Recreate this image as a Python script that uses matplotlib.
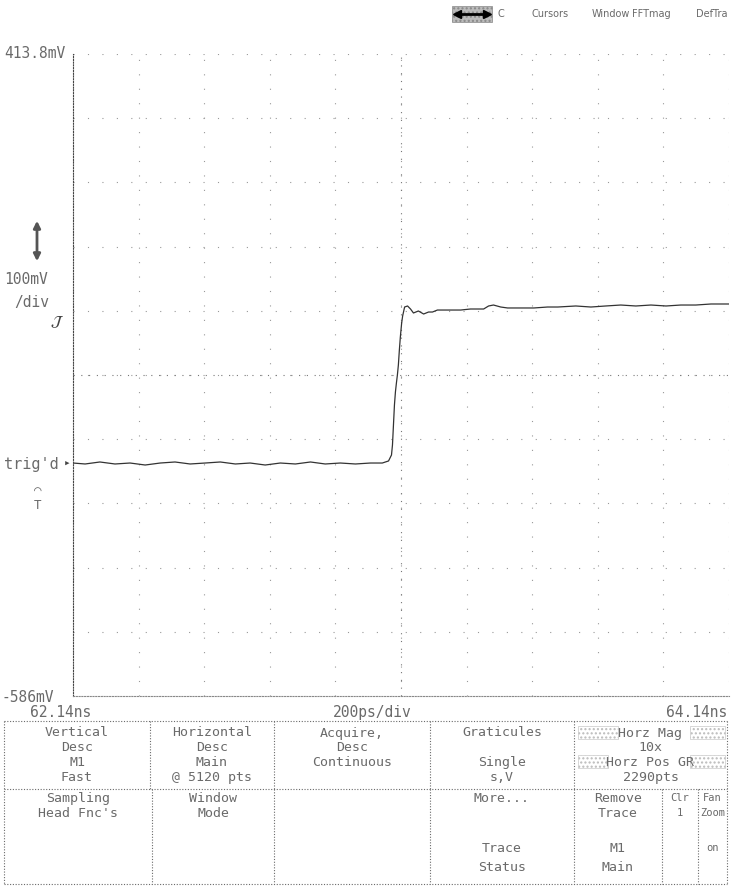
import matplotlib
matplotlib.use('Agg')
import matplotlib.pyplot as plt
from matplotlib.lines import Line2D
from matplotlib.patches import Rectangle

W, H = 731, 888

# trace: time (ns) and voltage (mV)
t_ns = [62.140, 62.177, 62.222, 62.268, 62.314, 62.360, 62.406, 62.451, 62.497,
        62.543, 62.589, 62.635, 62.680, 62.726, 62.772, 62.818, 62.864, 62.909,
        62.955, 63.001, 63.047, 63.083, 63.102, 63.111, 63.114, 63.117, 63.120,
        63.123, 63.126, 63.129, 63.132, 63.135, 63.138, 63.142, 63.145, 63.151,
        63.160, 63.169, 63.178, 63.193, 63.209, 63.224, 63.236, 63.251, 63.282,
        63.322, 63.352, 63.392, 63.407, 63.422, 63.444, 63.465, 63.505, 63.545,
        63.587, 63.618, 63.673, 63.719, 63.764, 63.810, 63.856, 63.902, 63.948,
        63.993, 64.039, 64.085, 64.140]
v_mV = [-223.3, -224.8, -221.7, -224.8, -223.3, -226.4, -223.3, -221.7, -224.8,
        -223.3, -221.7, -224.8, -223.3, -226.4, -223.3, -224.8, -221.7, -224.8,
        -223.3, -224.8, -223.3, -223.3, -220.1, -210.8, -195.2, -164.1, -133.0,
        -112.7, -98.7, -86.2, -70.6, -47.3, -27.0, -5.2, 5.7, 19.7,
        21.3, 16.6, 10.4, 13.5, 8.8, 11.9, 11.9, 15.0, 15.0,
        15.0, 16.6, 16.6, 21.3, 22.8, 19.7, 18.2, 18.2, 18.2,
        19.7, 19.7, 21.3, 19.7, 21.3, 22.8, 21.3, 22.8, 21.3,
        22.8, 22.8, 24.4, 24.4]

t_start, t_end = 62.14, 64.14
v_top, v_bot = 413.8, -586.2

# soft-key menu text
row1 = [['Vertical', 'Desc', 'M1', 'Fast'],
        ['Horizontal', 'Desc', 'Main', '@ 5120 pts'],
        ['Acquire,', 'Desc', 'Continuous', ''],
        ['Graticules', '', 'Single', 's,V'],
        ['Horz Mag', '10x', 'Horz Pos GR', '2290pts']]
row2 = [['Sampling', 'Head Fnc\'s', '', ''],
        ['Window', 'Mode', '', ''],
        ['', '', '', ''],
        ['More...', '', 'Trace', 'Status'],
        ['Remove', 'Trace', 'M1', 'Main'],
        ['Clr', '1', '', ''],
        ['Fan', 'Zoom', 'on', '']]
top_menu = ['C', 'Cursors', 'Window', 'FFTmag', 'DefTra']

GREY = '#6a6a6a'
FONT = 'DejaVu Sans Mono'


def fx(x):
    return x / W


def fy(y):
    return 1 - y / H


def txt(fig, x, y, s, size=10.5, ha='left', **kw):
    fig.text(fx(x), fy(y), s, ha=ha, va='center', fontsize=size,
             family=kw.pop('family', FONT), color=kw.pop('color', GREY), **kw)


def hline(fig, x0, x1, y, ls=(0, (1, 1.5)), lw=0.8, c=GREY):
    fig.add_artist(Line2D([fx(x0), fx(x1)], [fy(y), fy(y)], lw=lw, ls=ls, color=c))


def vline(fig, x, y0, y1, ls=(0, (1, 1.5)), lw=0.8, c=GREY):
    fig.add_artist(Line2D([fx(x), fx(x)], [fy(y0), fy(y1)], lw=lw, ls=ls, color=c))


fig = plt.figure(figsize=(W / 100, H / 100), dpi=100)
fig.patch.set_facecolor('white')

# graticule area
ax_l, ax_r, ax_t, ax_b = 73, 729, 54, 696
ax = fig.add_axes([fx(ax_l), fy(ax_b), (ax_r - ax_l) / W, (ax_b - ax_t) / H])
ax.set_xlim(t_start, t_end)
ax.set_ylim(v_bot, v_top)
ax.set_xticks([t_start + 0.2 * i for i in range(11)])
ax.set_yticks([v_bot + 100 * i for i in range(11)])
ax.tick_params(length=0, labelleft=False, labelbottom=False)
ax.grid(True, ls=(0, (1, 12)), lw=0.8, color='#999999')
for s in ['top', 'right']:
    ax.spines[s].set_visible(False)
ax.spines['left'].set_linestyle((0, (1, 1.5)))
ax.spines['left'].set_color('#444444')
ax.spines['bottom'].set_linestyle((0, (1, 1.5)))
ax.spines['bottom'].set_color('#888888')
# centre lines with finer dots
ax.axhline(v_bot + 500, ls=(0, (1, 6)), lw=0.8, color='#777777')
ax.axvline(t_start + 1.0, ls=(0, (1, 6)), lw=0.8, color='#777777')

ax.plot(t_ns, v_mV, color='#333333', lw=0.9)

# left annotations
txt(fig, 4, 53, '413.8mV')
txt(fig, 4, 280, '100mV')
txt(fig, 14, 303, '/div')
txt(fig, 50, 322, r'$\mathcal{J}$', size=11, color='#444444', family='DejaVu Sans')
txt(fig, 4, 464, "trig'd", size=11)
txt(fig, 64, 464, '\u25b8', size=8, color='#444444')
txt(fig, 34, 490, '\u2312', size=9)
txt(fig, 34, 505, 'T', size=9)
txt(fig, 2, 697, '-586mV')
ax.annotate('', xy=(fx(37), fy(218)), xytext=(fx(37), fy(264)),
            xycoords='figure fraction', textcoords='figure fraction',
            arrowprops=dict(arrowstyle='<|-|>', color='#555555', lw=2))

# bottom time labels
txt(fig, 30, 712, '62.14ns')
txt(fig, 372, 712, '200ps/div', ha='center')
txt(fig, 727, 712, '64.14ns', ha='right')

# top menu bar
fig.add_artist(Rectangle((fx(452), fy(22)), 40 / W, 16 / H, facecolor='#bbbbbb',
                         edgecolor='#888888', hatch='....', lw=0.5))
fig.add_artist(Line2D([fx(457), fx(487)], [fy(14), fy(14)], lw=2, color='black'))
fig.add_artist(Line2D([fx(457)], [fy(14)], marker='<', ms=6, color='black'))
fig.add_artist(Line2D([fx(487)], [fy(14)], marker='>', ms=6, color='black'))
for s, x in zip(top_menu, [498, 532, 592, 632, 696]):
    txt(fig, x, 14, s, size=7, family='DejaVu Sans')

# soft-key table
tbl_l, tbl_r, tbl_t, tbl_m, tbl_b = 4, 727, 721, 789, 884
hline(fig, tbl_l, tbl_r, tbl_t)
hline(fig, tbl_l, tbl_r, tbl_m)
hline(fig, tbl_l, tbl_r, tbl_b)
vline(fig, tbl_l, tbl_t, tbl_b)
vline(fig, tbl_r, tbl_t, tbl_b)

# stippled highlight boxes in Horz Mag cell
for (x0, y0, w, h) in [(578, 726, 40, 13), (690, 726, 35, 13),
                       (578, 755, 30, 13), (690, 755, 35, 13)]:
    fig.add_artist(Rectangle((fx(x0), fy(y0 + h)), w / W, h / H,
                             facecolor='none', edgecolor='#bbbbbb',
                             hatch='....', lw=0.4))

cols1 = [4, 150, 274, 430, 574, 727]
for x in cols1[1:-1]:
    vline(fig, x, tbl_t, tbl_m)
row_y1 = [733, 747, 762, 777]
for i, lines in enumerate(row1):
    cx = (cols1[i] + cols1[i + 1]) / 2
    for s, y in zip(lines, row_y1):
        if s:
            txt(fig, cx, y, s, size=9.5, ha='center')

cols2 = [4, 152, 274, 430, 574, 662, 698, 727]
for x in cols2[1:-1]:
    vline(fig, x, tbl_m, tbl_b)
row_y2 = [798, 813, 848, 867]
for i, lines in enumerate(row2):
    cx = (cols2[i] + cols2[i + 1]) / 2
    width = cols2[i + 1] - cols2[i]
    size = 9.5 if width > 60 else 7.5
    for s, y in zip(lines, row_y2):
        if s:
            txt(fig, cx, y, s, size=size, ha='center')

plt.savefig('out.png', dpi=100)
plt.close(fig)
